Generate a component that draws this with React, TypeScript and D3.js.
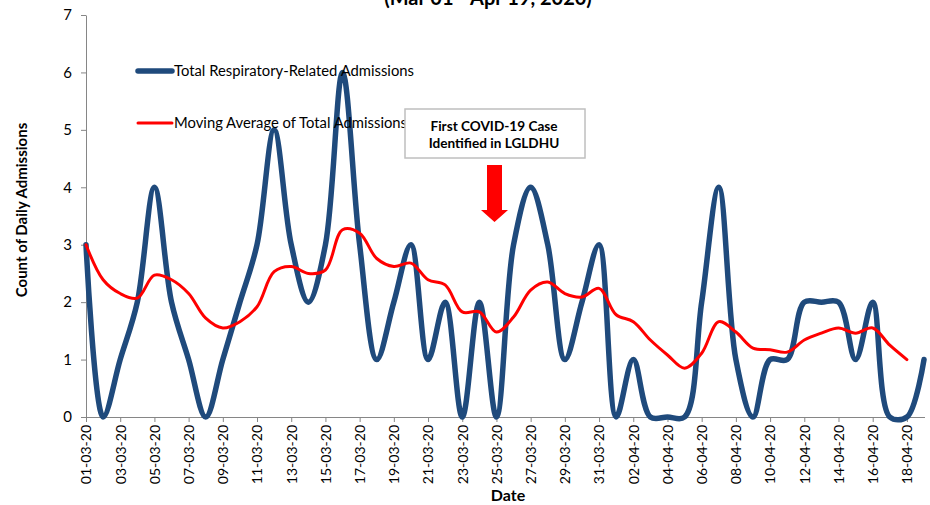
import { useRef, useEffect } from 'react'
import * as d3 from 'd3'

const dates = [
  '01-03-20', '02-03-20', '03-03-20', '04-03-20', '05-03-20', '06-03-20', '07-03-20', '08-03-20', '09-03-20', '10-03-20',
  '11-03-20', '12-03-20', '13-03-20', '14-03-20', '15-03-20', '16-03-20', '17-03-20', '18-03-20', '19-03-20', '20-03-20',
  '21-03-20', '22-03-20', '23-03-20', '24-03-20', '25-03-20', '26-03-20', '27-03-20', '28-03-20', '29-03-20', '30-03-20',
  '31-03-20', '01-04-20', '02-04-20', '03-04-20', '04-04-20', '05-04-20', '06-04-20', '07-04-20', '08-04-20', '09-04-20',
  '10-04-20', '11-04-20', '12-04-20', '13-04-20', '14-04-20', '15-04-20', '16-04-20', '17-04-20', '18-04-20', '19-04-20',
]

const totalAdmissions = [
  3, 0, 1, 2, 4, 2, 1, 0, 1, 2,
  3, 5, 3, 2, 3, 6, 3, 1, 2, 3,
  1, 2, 0, 2, 0, 3, 4, 3, 1, 2,
  3, 0, 1, 0, 0, 0, 2, 4, 1, 0,
  1, 1, 2, 2, 2, 1, 2, 0, 0, 1,
]

const movingAverage = [
  3.0, 2.39, 2.15, 2.07, 2.47, 2.39, 2.15, 1.72, 1.55, 1.66,
  1.92, 2.53, 2.62, 2.5, 2.56, 3.26, 3.2, 2.76, 2.62, 2.68,
  2.39, 2.3, 1.83, 1.83, 1.48, 1.74, 2.21, 2.35, 2.15, 2.09,
  2.24, 1.78, 1.66, 1.34, 1.08, 0.85, 1.11, 1.66, 1.48, 1.2,
  1.17, 1.13, 1.34, 1.46, 1.55, 1.46, 1.55, 1.25, 1.0,
]

const yTicks = [0, 1, 2, 3, 4, 5, 6, 7]

const FONT = 'Lato, "Open Sans", sans-serif'
const BLUE = '#1F4A7C'
const RED = '#FF0000'

const width = 930
const height = 505

const App = () => {
  const svgRef = useRef<SVGSVGElement>(null)

  useEffect(() => {
    if (!svgRef.current) return
    const svg = d3.select(svgRef.current)
    svg.selectAll('*').remove()

    const x = d3.scalePoint<string>().domain(dates).range([86, 924])
    const y = d3.scaleLinear().domain([0, 7]).range([417, 15])

    // title (cut off at the top in the original)
    svg.append('text')
      .attr('x', 488)
      .attr('y', 5)
      .attr('text-anchor', 'middle')
      .style('font-family', FONT)
      .style('font-size', '20px')
      .style('font-weight', 'bold')
      .text('(Mar 01 - Apr 19, 2020)')

    // y axis
    const yAxis = svg.append('g')
      .attr('transform', 'translate(86,0)')
      .call(d3.axisLeft(y).tickValues(yTicks).tickFormat(d3.format('d')).tickSize(5).tickPadding(9).tickSizeOuter(0))
    yAxis.select('.domain').attr('stroke', '#868686')
    yAxis.selectAll('.tick line').attr('stroke', '#868686')
    yAxis.selectAll('.tick text')
      .style('font-family', FONT)
      .style('font-size', '15px')
      .attr('fill', '#000')

    // x axis
    const xAxis = svg.append('g')
      .attr('transform', 'translate(0,417)')
      .call(
        d3.axisBottom(x)
          .tickValues(dates.filter((_, i) => i % 2 === 0 && i < 49))
          .tickSize(5)
          .tickSizeOuter(0)
      )
    xAxis.select('.domain').attr('stroke', '#868686').attr('d', 'M86,0.5H925')
    xAxis.selectAll('.tick line').attr('stroke', '#868686')
    xAxis.selectAll('.tick text')
      .style('font-family', FONT)
      .style('font-size', '14px')
      .attr('fill', '#000')
      .attr('transform', 'rotate(-90)')
      .attr('text-anchor', 'end')
      .attr('x', -8)
      .attr('y', 0)
      .attr('dy', '0.35em')

    // axis titles
    svg.append('text')
      .attr('transform', 'translate(27,210) rotate(-90)')
      .attr('text-anchor', 'middle')
      .style('font-family', FONT)
      .style('font-size', '15px')
      .style('font-weight', 'bold')
      .text('Count of Daily Admissions')

    svg.append('text')
      .attr('x', 508)
      .attr('y', 501)
      .attr('text-anchor', 'middle')
      .style('font-family', FONT)
      .style('font-size', '16px')
      .style('font-weight', 'bold')
      .text('Date')

    // series
    const smooth = d3.line<number>()
      .x((_, i) => x(dates[i]) as number)
      .y((d) => y(d))
      .curve(d3.curveCatmullRom.alpha(0.5))

    svg.append('path')
      .datum(totalAdmissions)
      .attr('fill', 'none')
      .attr('stroke', BLUE)
      .attr('stroke-width', 5.5)
      .attr('stroke-linejoin', 'round')
      .attr('stroke-linecap', 'round')
      .attr('d', smooth)

    svg.append('path')
      .datum(movingAverage)
      .attr('fill', 'none')
      .attr('stroke', RED)
      .attr('stroke-width', 3)
      .attr('stroke-linejoin', 'round')
      .attr('stroke-linecap', 'round')
      .attr('d', smooth)

    // legend
    const legend = svg.append('g').attr('transform', 'translate(138,0)')
    legend.append('line')
      .attr('x1', 0).attr('x2', 34).attr('y1', 71).attr('y2', 71)
      .attr('stroke', BLUE).attr('stroke-width', 5.5).attr('stroke-linecap', 'round')
    legend.append('text')
      .attr('x', 36).attr('y', 76)
      .style('font-family', FONT).style('font-size', '14.8px')
      .text('Total Respiratory-Related Admissions')
    legend.append('line')
      .attr('x1', 0).attr('x2', 34).attr('y1', 123).attr('y2', 123)
      .attr('stroke', RED).attr('stroke-width', 3).attr('stroke-linecap', 'round')
    legend.append('text')
      .attr('x', 36).attr('y', 128)
      .style('font-family', FONT).style('font-size', '14.8px')
      .text('Moving Average of Total Admissions')

    // annotation box
    const note = svg.append('g')
    note.append('rect')
      .attr('x', 405).attr('y', 109).attr('width', 180).attr('height', 49)
      .attr('fill', '#fff').attr('stroke', '#BFBFBF').attr('stroke-width', 1.5)
    note.append('text')
      .attr('x', 494).attr('y', 131)
      .attr('text-anchor', 'middle')
      .style('font-family', FONT).style('font-size', '13.6px').style('font-weight', 'bold')
      .text('First COVID-19 Case')
    note.append('text')
      .attr('x', 494).attr('y', 148)
      .attr('text-anchor', 'middle')
      .style('font-family', FONT).style('font-size', '13.6px').style('font-weight', 'bold')
      .text('Identified in LGLDHU')

    // arrow
    note.append('path')
      .attr('d', 'M487,165H502V210H508L494.5,222L481,210H487Z')
      .attr('fill', RED)
  }, [])

  return (
    <svg
      ref={svgRef}
      width={width}
      height={height}
      style={{ position: 'absolute', left: 0, top: 0, background: '#fff' }}
    />
  )
}

export default App
